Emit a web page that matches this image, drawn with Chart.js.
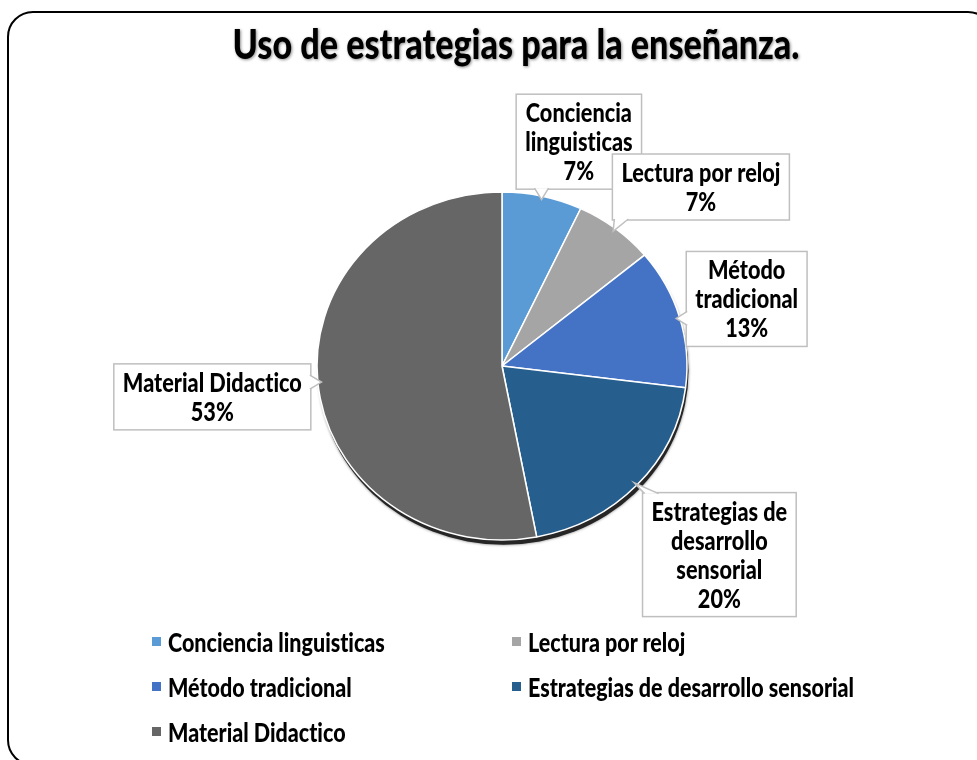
<!DOCTYPE html>
<html>
<head>
<meta charset="utf-8">
<script src="https://cdn.jsdelivr.net/npm/chart.js@4.4.0/dist/chart.umd.min.js"></script>
<style>
  html, body { margin: 0; padding: 0; background: #fff; }
  #wrap { position: relative; width: 977px; height: 760px; overflow: hidden; background: #fff; }
  #frame { position: absolute; left: 7px; top: 11px; width: 987px; height: 755px; border: 2px solid #000; border-radius: 26px; box-sizing: border-box; }
  #c { position: absolute; left: 0; top: 0; }
  #legend { position: absolute; left: 152px; top: 619px; width: 800px; display: grid; grid-template-columns: 360px 440px; grid-auto-rows: 45px; font-family: Lato, "Open Sans", sans-serif; font-weight: 900; color: #000; font-variant-ligatures: none; }
  #legend .item { display: flex; align-items: center; white-space: nowrap; }
  #legend .sw { width: 9px; height: 9px; margin-right: 7px; flex: none; }
  #legend .tx { display: inline-block; transform-origin: 0 50%; }
</style>
</head>
<body>
<div id="wrap">
  <div id="frame"></div>
  <canvas id="c" width="977" height="760"></canvas>
  <div id="legend"></div>
</div>
<script>
// ---- data ----
const titleText = 'Uso de estrategias para la enseñanza.';
const categories = ['Conciencia linguisticas', 'Lectura por reloj', 'Método tradicional', 'Estrategias de desarrollo sensorial', 'Material Didactico'];
const percentages = [7, 7, 13, 20, 53];
const labelLines = [['Conciencia', 'linguisticas'], ['Lectura por reloj'], ['Método', 'tradicional'], ['Estrategias de', 'desarrollo', 'sensorial'], ['Material Didactico']];
const sliceColors = ['#5B9BD5', '#A5A5A5', '#4472C4', '#265E8E', '#666666'];

// ---- layout / style ----
const FAM = 'Lato, "Open Sans", sans-serif';
const WEIGHT = '900';
const K = 0.83;                              // horizontal condensing of text
const PIE_RX = 185, PIE_RY = 174;            // elliptical (tilted) pie radii
const calloutOffsets = [[36.5, -54.5], [85.5, -41.5], [67, -18.5], [82.5, 69.5], [-105.5, 14.5]];
const LINE_H = 29, BOX_PAD_X = 9, BOX_PAD_Y = 4;

const mctx = document.createElement('canvas').getContext('2d');
function fit(text, target) { mctx.font = WEIGHT + ' 100px ' + FAM; mctx.letterSpacing = '0.01px'; return 100 * target / (mctx.measureText(text).width * K); }
const labelSize = fit('Material Didactico', 179);
const titleSize = fit(titleText, 567);
const legendSize = fit('Conciencia linguisticas', 217);

function condensedText(c, t, x, y) {
  c.save(); c.translate(x, y); c.scale(K, 1); c.fillText(t, 0, 0); c.restore();
}

let SX = 1, SY = 1;

const piePlugin = {
  id: 'piePlugin',
  beforeDatasetsDraw(chart) {
    const arc = chart.getDatasetMeta(0).data[0];
    const cx = arc.x, cy = arc.y, r = arc.outerRadius;
    SX = PIE_RX / r; SY = PIE_RY / r;
    const c = chart.ctx;
    c.save();
    c.translate(cx, cy); c.scale(SX, SY); c.translate(-cx, -cy);
    c.save();
    c.shadowColor = 'rgba(0,0,0,0.55)';
    c.shadowBlur = 3;
    c.beginPath();
    c.arc(cx + 1.5, cy + 5, r, 0, Math.PI * 2);
    c.fillStyle = '#262626';
    c.fill();
    c.restore();
  },
  afterDatasetsDraw(chart) {
    const c = chart.ctx;
    c.restore();
    const meta = chart.getDatasetMeta(0);
    c.save();
    c.font = WEIGHT + ' ' + labelSize + 'px ' + FAM;
    c.letterSpacing = '0.01px';
    meta.data.forEach((arc, i) => {
      const cx = arc.x, cy = arc.y, r = arc.outerRadius;
      const mid = (arc.startAngle + arc.endAngle) / 2;
      const ax = cx + Math.cos(mid) * r * SX, ay = cy + Math.sin(mid) * r * SY;
      const tx = cx + Math.cos(mid) * r * SX * 0.98, ty = cy + Math.sin(mid) * r * SY * 0.98;
      const lines = labelLines[i].concat([percentages[i] + '%']);
      let w = 0; lines.forEach(t => { w = Math.max(w, c.measureText(t).width * K); });
      const bw = w + BOX_PAD_X * 2, bh = lines.length * LINE_H + BOX_PAD_Y * 2;
      const bx = ax + calloutOffsets[i][0] - bw / 2, by = ay + calloutOffsets[i][1] - bh / 2;
      c.fillStyle = '#fff';
      c.strokeStyle = '#BFBFBF';
      c.lineWidth = 1.5;
      c.fillRect(bx, by, bw, bh);
      c.strokeRect(bx, by, bw, bh);
      const half = 7;
      let b1, b2;
      if (ty > by + bh) {
        const px = Math.min(Math.max(tx, bx + half + 2), bx + bw - half - 2);
        b1 = [px - half, by + bh - 1]; b2 = [px + half, by + bh - 1];
      } else if (ty < by) {
        const px = Math.min(Math.max(tx, bx + half + 2), bx + bw - half - 2);
        b1 = [px - half, by + 1]; b2 = [px + half, by + 1];
      } else if (tx < bx) {
        const py = Math.min(Math.max(ty, by + half + 2), by + bh - half - 2);
        b1 = [bx + 1, py - half]; b2 = [bx + 1, py + half];
      } else {
        const py = Math.min(Math.max(ty, by + half + 2), by + bh - half - 2);
        b1 = [bx + bw - 1, py - half]; b2 = [bx + bw - 1, py + half];
      }
      c.beginPath(); c.moveTo(b1[0], b1[1]); c.lineTo(tx, ty); c.lineTo(b2[0], b2[1]); c.closePath();
      c.fill();
      c.beginPath(); c.moveTo(b1[0], b1[1]); c.lineTo(tx, ty); c.lineTo(b2[0], b2[1]);
      c.stroke();
      c.fillStyle = '#000';
      c.textAlign = 'center';
      c.textBaseline = 'middle';
      const top = by + BOX_PAD_Y + LINE_H / 2;
      lines.forEach((t, k) => condensedText(c, t, bx + bw / 2, top + k * LINE_H + 1));
    });
    c.restore();
  },
  afterDraw(chart) {
    const c = chart.ctx;
    c.save();
    c.font = WEIGHT + ' ' + titleSize + 'px ' + FAM;
    c.letterSpacing = '0.01px';
    c.textAlign = 'center';
    c.textBaseline = 'alphabetic';
    c.shadowColor = 'rgba(0,0,0,0.45)';
    c.shadowBlur = 3;
    c.shadowOffsetX = 1; c.shadowOffsetY = 1;
    c.fillStyle = '#000';
    condensedText(c, titleText, 516, 59);
    c.restore();
  }
};

const chart = new Chart(document.getElementById('c'), {
  type: 'pie',
  data: {
    labels: categories,
    datasets: [{ data: percentages, backgroundColor: sliceColors, borderColor: '#FFFFFF', borderWidth: 1.5 }]
  },
  options: {
    responsive: false,
    animation: false,
    layout: { padding: { top: 186, bottom: 214, left: 27, right: 0 } },
    plugins: { legend: { display: false }, tooltip: { enabled: false }, title: { display: false } }
  },
  plugins: [piePlugin]
});

const legendEl = document.getElementById('legend');
legendEl.style.fontSize = legendSize + 'px';
const items = chart.options.plugins.legend.labels.generateLabels(chart);
items.forEach(it => {
  const d = document.createElement('div'); d.className = 'item';
  const s = document.createElement('span'); s.className = 'sw'; s.style.background = it.fillStyle;
  const t = document.createElement('span'); t.className = 'tx'; t.textContent = it.text; t.style.transform = 'scaleX(' + K + ')';
  d.appendChild(s); d.appendChild(t); legendEl.appendChild(d);
});
</script>
</body>
</html>
